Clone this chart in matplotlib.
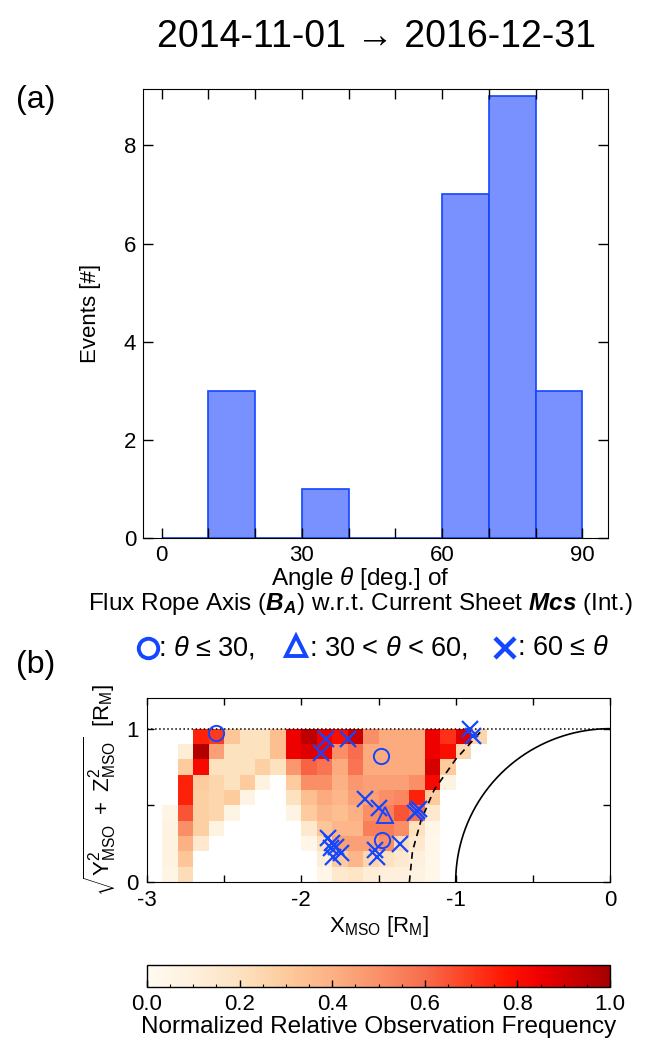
import numpy as np
import matplotlib
matplotlib.use("Agg")
import matplotlib.pyplot as plt
from matplotlib.colors import LinearSegmentedColormap
from matplotlib.lines import Line2D

plt.rcParams["font.family"] = ["Liberation Sans", "DejaVu Sans"]
plt.rcParams["mathtext.fontset"] = "custom"
plt.rcParams["mathtext.rm"] = "Liberation Sans"
plt.rcParams["mathtext.it"] = "Liberation Sans:italic"
plt.rcParams["mathtext.bf"] = "Liberation Sans:italic:bold"

# ---- panel (a): histogram of angles ----
bin_left = [0, 10, 20, 30, 40, 50, 60, 70, 80]
counts = [0, 3, 0, 1, 0, 0, 7, 9, 3]
a_xticks = [0, 10, 20, 30, 40, 50, 60, 70, 80, 90]
a_xticklabels = ["0", "", "", "30", "", "", "60", "", "", "90"]
a_yticks = [0, 2, 4, 6, 8]

# ---- panel (b): observation frequency map (rows from top y=0.9-1.0 down to 0-0.1) ----
n = np.nan
freq_rows = [
    [n, n, n, .75, .70, .32, .20, .20, .35, .85, .95, .85, .80, .92, .50, .42, .42, .42, .85, .72, .88, .25],
    [n, n, .12, .97, .45, .20, .20, .20, .35, .85, .88, .85, .50, .60, .42, .42, .42, .42, .85, .80, .25, n],
    [n, n, .30, .82, .20, .20, .20, .28, .20, .48, .62, .58, .42, .58, .42, .42, .42, .42, .90, .30, n, n],
    [n, n, .75, .30, .25, .20, .30, .08, n, .30, .50, .50, .40, .48, .45, .45, .45, .50, .82, .08, n, n],
    [n, n, .75, .28, .25, .30, .07, n, n, .20, .35, .42, .38, .45, .45, .50, .52, .75, .30, n, n, n],
    [n, .06, .65, .28, .25, .07, n, n, n, .07, .30, .38, .35, .40, .50, .55, .65, .60, .15, n, n, n],
    [n, .08, .50, .28, .08, n, n, n, n, n, .15, .32, .38, .38, .55, .55, .50, .20, .05, n, n, n],
    [n, .08, .40, .15, n, n, n, n, n, n, .05, .20, .45, .45, .45, .50, .22, .15, .04, n, n, n],
    [n, .08, .32, n, n, n, n, n, n, n, n, .12, .30, .38, .25, .20, .15, .10, .04, n, n, n],
    [n, .06, .22, n, n, n, n, n, n, n, n, .05, .15, .18, .12, .10, .10, .08, .04, n, n, n],
]
x_edges = np.round(np.arange(-3.0, -0.75, 0.1), 2)
y_edges = np.round(np.arange(0.0, 1.05, 0.1), 2)

circ_x = [-2.55, -1.485, -1.475]
circ_y = [0.975, 0.82, 0.275]
tri_x = [-1.46]
tri_y = [0.44]
cross_x = [-1.84, -1.70, -1.87, -0.907, -0.89, -1.59, -1.50, -1.265, -1.235, -1.25,
           -1.36, -1.827, -1.80, -1.775, -1.745, -1.795, -1.81, -1.52, -1.51]
cross_y = [0.93, 0.93, 0.84, 0.995, 0.952, 0.54, 0.485, 0.45, 0.475, 0.46,
           0.245, 0.29, 0.255, 0.23, 0.19, 0.16, 0.22, 0.21, 0.165]

# boundary (dashed)
bnd_y = [0.0, 0.2, 0.4, 0.6, 0.8, 1.0]
bnd_x = [-1.30, -1.28, -1.225, -1.14, -1.00, -0.82]

blue = "#1446ff"
cmap = LinearSegmentedColormap.from_list("obs", [
    (0.0, "#fffbf3"), (0.1, "#fef0dc"), (0.2, "#fde2c0"), (0.3, "#fdcb9c"),
    (0.4, "#fcb184"), (0.5, "#fa9068"), (0.6, "#f76d4d"), (0.7, "#fd3b1f"),
    (0.78, "#ff1400"), (0.85, "#ee0000"), (1.0, "#a50000")])

fig = plt.figure(figsize=(6.52, 10.49), dpi=100)

fig.text(0.578, 0.9647, "2014-11-01 \u2192 2016-12-31", ha="center", va="center", fontsize=27)

# panel (a)
ax1 = fig.add_axes([0.2193, 0.4871, 0.7132, 0.4281])
ax1.bar(bin_left, counts, width=10, align="edge", color="#7891ff", edgecolor=blue, linewidth=1.2)
ax1.set_xlim(-4, 95.5)
ax1.set_ylim(0, 9.15)
ax1.set_xticks(a_xticks)
ax1.set_xticklabels(a_xticklabels)
ax1.set_yticks(a_yticks)
ax1.tick_params(direction="in", top=True, right=True, length=7, width=1, labelsize=16, pad=5)
ax1.set_ylabel("Events [#]", fontsize=16, labelpad=16)
fig.text(0.553, 0.4365,
         "Angle $\\theta$ [deg.] of\n"
         r"Flux Rope Axis ($\mathbf{B}_\mathbf{A}$) w.r.t. Current Sheet $\mathbf{Mcs}$ (Int.)",
         ha="center", va="center", multialignment="center", fontsize=17.5, linespacing=0.95)
fig.text(0.054, 0.905, "(a)", ha="center", va="center", fontsize=23)

# panel (b)
ax2 = fig.add_axes([0.2255, 0.1592, 0.7101, 0.1754])
mesh = ax2.pcolormesh(x_edges, y_edges, np.array(freq_rows)[::-1], cmap=cmap, vmin=0, vmax=1)
ax2.axhline(1.0, color="k", ls=":", lw=1.1)
th = np.linspace(0, np.pi / 2, 200)
ax2.plot(-np.cos(th), np.sin(th), color="k", lw=1.2)
ax2.plot(bnd_x, bnd_y, color="k", ls=(0, (4, 3)), lw=1.2)
ax2.plot(circ_x, circ_y, ls="none", marker="o", ms=11, mfc="none", mec=blue, mew=1.4)
ax2.plot(tri_x, tri_y, ls="none", marker="^", ms=11, mfc="none", mec=blue, mew=1.4)
ax2.plot(cross_x, cross_y, ls="none", marker="x", ms=11.5, mec=blue, mew=1.6)
ax2.set_xlim(-3, 0)
ax2.set_ylim(0, 1.2)
ax2.set_xticks(np.arange(-3, 0.01, 0.5))
ax2.set_xticklabels(["-3", "", "-2", "", "-1", "", "0"])
ax2.set_yticks([0, 0.5, 1])
ax2.set_yticklabels(["0", "", "1"])
ax2.tick_params(direction="in", top=True, right=True, length=5, width=1, labelsize=16, pad=6)
ax2.set_xlabel(r"X$_\mathrm{MSO}$ [R$_\mathrm{M}$]", fontsize=16, labelpad=2)
ax2.set_ylabel(r"$\sqrt{\mathrm{Y}^2_\mathrm{MSO}\ +\ \mathrm{Z}^2_\mathrm{MSO}}$  [R$_\mathrm{M}$]",
               fontsize=16, labelpad=6)
fig.text(0.054, 0.366, "(b)", ha="center", va="center", fontsize=23)

# marker legend line
ly = 0.3823
fig.add_artist(Line2D([0.227], [ly], marker="o", ms=14, mfc="none", mec=blue, mew=2.8, transform=fig.transFigure))
fig.text(0.243, ly, ": $\\theta$ \u2264 30,", ha="left", va="center", fontsize=19.5)
fig.add_artist(Line2D([0.454], [ly + 0.002], marker="^", ms=15, mfc="none", mec=blue, mew=2.8, transform=fig.transFigure))
fig.text(0.474, ly, r": 30 < $\theta$ < 60,", ha="left", va="center", fontsize=19.5)
fig.add_artist(Line2D([0.7745], [ly], marker="x", ms=14, mec=blue, mew=3.2, transform=fig.transFigure))
fig.text(0.793, ly, ": 60 \u2264 $\\theta$", ha="left", va="center", fontsize=19.5)

# colorbar
cax = fig.add_axes([0.2255, 0.0591, 0.7101, 0.021])
cb = fig.colorbar(mesh, cax=cax, orientation="horizontal")
cb.set_ticks([0, 0.2, 0.4, 0.6, 0.8, 1.0])
cb.set_ticklabels(["0.0", "0.2", "0.4", "0.6", "0.8", "1.0"])
cax.set_xticks(np.arange(0, 1.001, 0.05), minor=True)
cax.tick_params(which="major", direction="in", length=5, width=1, labelsize=16, pad=5)
cax.tick_params(which="minor", direction="in", length=2.5, width=0.8)
cb.outline.set_linewidth(1)
cb.set_label("Normalized Relative Observation Frequency", fontsize=17.5, labelpad=1)

fig.savefig("out.png", dpi=100)
